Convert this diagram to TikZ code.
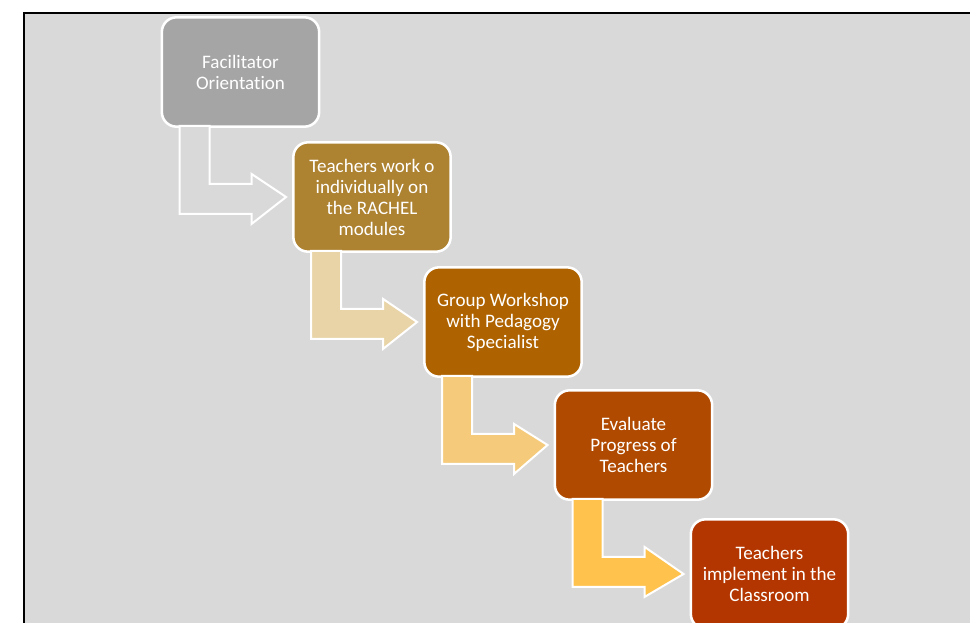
\documentclass[tikz,border=0pt]{standalone}
\usepackage{fontspec}
\setmainfont[Ligatures=NoCommon]{Carlito}
\usetikzlibrary{calc}

\definecolor{panel}{HTML}{D9D9D9}
\definecolor{stepA}{HTML}{A5A5A5}
\definecolor{stepB}{HTML}{AD8231}
\definecolor{stepC}{HTML}{AE6300}
\definecolor{stepD}{HTML}{B04A00}
\definecolor{stepE}{HTML}{B33600}
\definecolor{arrowA}{HTML}{D9D9D9}
\definecolor{arrowB}{HTML}{E9D4A7}
\definecolor{arrowC}{HTML}{F5CB7B}
\definecolor{arrowD}{HTML}{FFC24D}

\tikzset{
  stepbox/.style={draw=white, line width=1.9pt, rounded corners=11pt,
    minimum width=118pt, minimum height=82pt, inner sep=2pt,
    align=center, text=white,
    font=\fontsize{14.3pt}{15.75pt}\selectfont},
  flowarrow/.style={draw=white, line width=1.5pt, line join=miter}
}

% bent arrow leading from the bottom of one step to the left side of the next
\newcommand\bentarrow[3]{%
  \draw[flowarrow, fill=#3]
    ($(#1.south west)+(19,-2)$) -- ($(#1.south west)+(49,-2)$)
    -- ($(#1.south west)+(49,56)$) -- ($(#1.south west)+(91,56)$)
    -- ($(#1.south west)+(91,46)$) -- ($(#2.west)+(-6,0)$)
    -- ($(#1.south west)+(91,96)$) -- ($(#1.south west)+(91,86)$)
    -- ($(#1.south west)+(19,86)$) -- cycle;}

\begin{document}
\begin{tikzpicture}[x=0.75pt, y=-0.75pt]
  \useasboundingbox (0,0) rectangle (970,622);

  % panel
  \fill[panel] (24,13) rectangle (990,640);
  \draw[black, line width=1.2pt] (990,13) -- (24,13) -- (24,640);

  % steps
  \node[stepbox, fill=stepA] (s1) at (240.5,72)  {Facilitator\\Orientation};
  \node[stepbox, fill=stepB] (s2) at (372,197)   {Teachers work o\\individually on\\the RACHEL\\modules};
  \node[stepbox, fill=stepC] (s3) at (503,322)   {Group Workshop\\with Pedagogy\\Specialist};
  \node[stepbox, fill=stepD] (s4) at (633.5,445) {Evaluate\\Progress of\\Teachers};
  \node[stepbox, fill=stepE] (s5) at (769.5,574) {Teachers\\implement in the\\Classroom};

  % connectors
  \bentarrow{s1}{s2}{arrowA}
  \bentarrow{s2}{s3}{arrowB}
  \bentarrow{s3}{s4}{arrowC}
  \bentarrow{s4}{s5}{arrowD}
\end{tikzpicture}
\end{document}
